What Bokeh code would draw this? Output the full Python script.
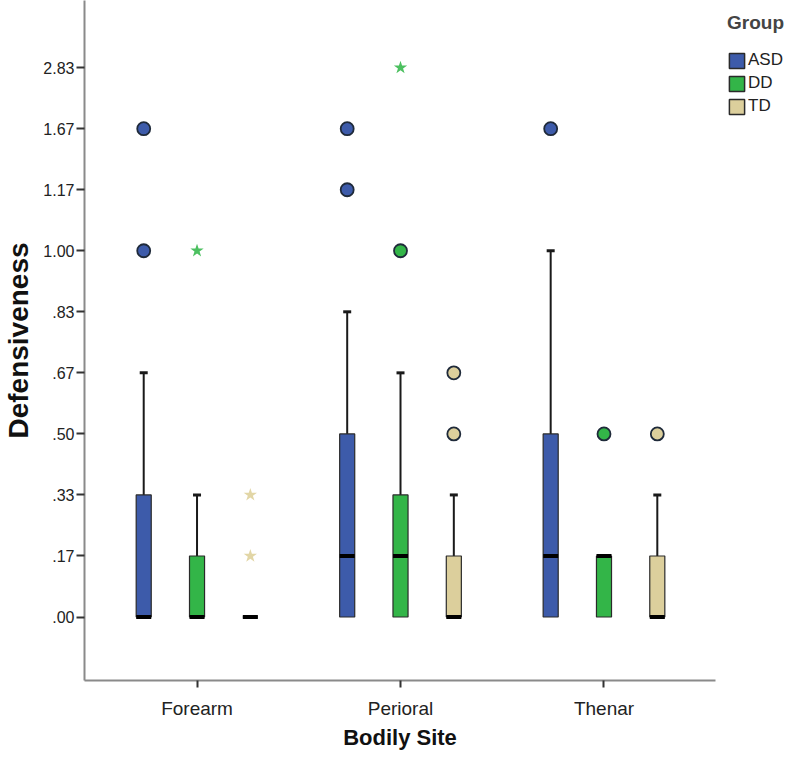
from bokeh.plotting import figure
from bokeh.models import FixedTicker, Legend, LegendItem, ColumnDataSource
from bokeh.layouts import row
from bokeh.embed import file_html
from bokeh.resources import INLINE

# ---- data ----
sites = ["Forearm", "Perioral", "Thenar"]
groups = ["ASD", "DD", "TD"]
# ordinal y levels used by the original chart (equally spaced)
y_levels = [0.00, 0.17, 0.33, 0.50, 0.67, 0.83, 1.00, 1.17, 1.67, 2.83]
y_tick_labels = [".00", ".17", ".33", ".50", ".67", ".83", "1.00", "1.17", "1.67", "2.83"]

# one entry per box, order: site-major, group-minor
box_site = ["Forearm", "Forearm", "Forearm", "Perioral", "Perioral", "Perioral", "Thenar", "Thenar", "Thenar"]
box_group = ["ASD", "DD", "TD", "ASD", "DD", "TD", "ASD", "DD", "TD"]
q1 = [0.00, 0.00, 0.00, 0.00, 0.00, 0.00, 0.00, 0.00, 0.00]
median = [0.00, 0.00, 0.00, 0.17, 0.17, 0.00, 0.17, 0.17, 0.00]
q3 = [0.33, 0.17, 0.00, 0.50, 0.33, 0.17, 0.50, 0.17, 0.17]
whisker_hi = [0.67, 0.33, 0.00, 0.83, 0.67, 0.33, 1.00, 0.17, 0.33]

# outliers (circles) and extremes (stars)
out_site = ["Forearm", "Forearm", "Perioral", "Perioral", "Perioral", "Perioral", "Perioral", "Thenar", "Thenar", "Thenar"]
out_group = ["ASD", "ASD", "ASD", "ASD", "DD", "TD", "TD", "ASD", "DD", "TD"]
out_value = [1.00, 1.67, 1.17, 1.67, 1.00, 0.50, 0.67, 1.67, 0.50, 0.50]

ext_site = ["Forearm", "Forearm", "Forearm", "Perioral"]
ext_group = ["DD", "TD", "TD", "DD"]
ext_value = [1.00, 0.17, 0.33, 2.83]

colors = {"ASD": "#3D5BAA", "DD": "#33B548", "TD": "#DCCF9C"}
star_colors = {"ASD": "#3D5BAA", "DD": "#4CC060", "TD": "#E2D6A6"}

# ---- mapping through the chart's scales ----
GROUP_OFFSET = 0.262
BOX_W = 0.074


def ypos(v):
    return y_levels.index(v)


def xpos(site, group):
    return sites.index(site) + (groups.index(group) - 1) * GROUP_OFFSET


H = 752
p = figure(width=716, height=H, output_backend="svg", toolbar_location=None,
           x_range=(-0.553, 2.548), y_range=(-1.04, 10.10),
           min_border_left=81, min_border_right=1, min_border_top=0, min_border_bottom=65)
p.outline_line_color = None
p.xgrid.visible = False
p.ygrid.visible = False
p.background_fill_color = "white"
p.border_fill_color = "white"

bx = [xpos(s, g) for s, g in zip(box_site, box_group)]
box_src = ColumnDataSource(dict(
    x=bx,
    q1=[ypos(v) for v in q1],
    med=[ypos(v) for v in median],
    q3=[ypos(v) for v in q3],
    hi=[ypos(v) for v in whisker_hi],
    color=[colors[g] for g in box_group],
    group=box_group,
))

# whiskers
p.segment(x0="x", y0="q3", x1="x", y1="hi", source=box_src, line_color="#1a1a1a", line_width=2)
cap_idx = [i for i in range(len(bx)) if whisker_hi[i] > q3[i]]
p.scatter(x=[bx[i] for i in cap_idx], y=[ypos(whisker_hi[i]) for i in cap_idx],
          marker="dash", size=8, line_color="#1a1a1a", line_width=3)

# boxes
p.vbar(x="x", bottom="q1", top="q3", width=BOX_W, source=box_src,
       fill_color="color", line_color="#2a2a2a", line_width=1.2)
# medians
p.rect(x="x", y="med", width=BOX_W, height=4, height_units="screen", source=box_src,
       fill_color="#000000", line_color=None)

# outliers
p.scatter(x=[xpos(s, g) for s, g in zip(out_site, out_group)],
          y=[ypos(v) for v in out_value],
          marker="circle", size=13,
          fill_color=[colors[g] for g in out_group], line_color="#1f2a3a", line_width=1.8)
p.scatter(x=[xpos(s, g) for s, g in zip(ext_site, ext_group)],
          y=[ypos(v) for v in ext_value],
          marker="star", size=14,
          fill_color=[star_colors[g] for g in ext_group], line_color=None)

# ---- axes ----
p.xaxis.ticker = FixedTicker(ticks=list(range(len(sites))))
p.xaxis.major_label_overrides = {i: s for i, s in enumerate(sites)}
p.yaxis.ticker = FixedTicker(ticks=list(range(len(y_levels))))
p.yaxis.major_label_overrides = {i: s for i, s in enumerate(y_tick_labels)}

for ax in (p.xaxis[0], p.yaxis[0]):
    ax.axis_line_color = "#8a8a8a"
    ax.axis_line_width = 2
    ax.major_tick_line_color = "#333333"
    ax.major_tick_line_width = 2
    ax.major_tick_in = 0
    ax.major_tick_out = 7
    ax.minor_tick_line_color = None
    ax.major_label_text_font = "Liberation Sans"
    ax.major_label_text_color = "#222222"
    ax.axis_label_text_font = "Liberation Sans"
    ax.axis_label_text_font_style = "bold"
    ax.axis_label_text_color = "#111111"

p.xaxis.major_label_text_font_size = "19px"
p.yaxis.major_label_text_font_size = "16px"
p.xaxis.major_label_standoff = 10
p.yaxis.major_label_standoff = 2
p.yaxis.major_tick_out = 8
p.xaxis.axis_label = "Bodily Site"
p.yaxis.axis_label = "Defensiveness"
p.xaxis.axis_label_text_font_size = "22px"
p.yaxis.axis_label_text_font_size = "28px"
p.xaxis.axis_label_standoff = 3
p.yaxis.axis_label_standoff = 6

# ---- legend (in a narrow companion panel to the right) ----
q = figure(width=68, height=H, output_backend="svg", toolbar_location=None,
           x_range=(0, 1), y_range=(0, 1), x_axis_location=None, y_axis_location=None,
           min_border_left=0, min_border_right=0, min_border_top=0, min_border_bottom=0)
q.outline_line_color = None
q.xgrid.visible = False
q.ygrid.visible = False
q.border_fill_color = "white"
items = []
for g in groups:
    r = q.rect(x=[5], y=[5], width=1, height=1,
               fill_color=colors[g], line_color="#2a2a2a", line_width=1.5)
    items.append(LegendItem(label=g, renderers=[r]))
legend = Legend(items=items, location=(11, 564), title="Group",
                title_text_font="Liberation Sans", title_text_font_style="bold",
                title_text_font_size="19px", title_standoff=16,
                label_text_font="Liberation Sans", label_text_font_size="17px",
                label_text_color="#222222",
                glyph_width=19, glyph_height=19, label_standoff=2, spacing=3,
                padding=0, margin=0, border_line_color=None, background_fill_alpha=0)
q.add_layout(legend, "center")

open("out.html", "w").write(file_html(row(p, q), INLINE))
